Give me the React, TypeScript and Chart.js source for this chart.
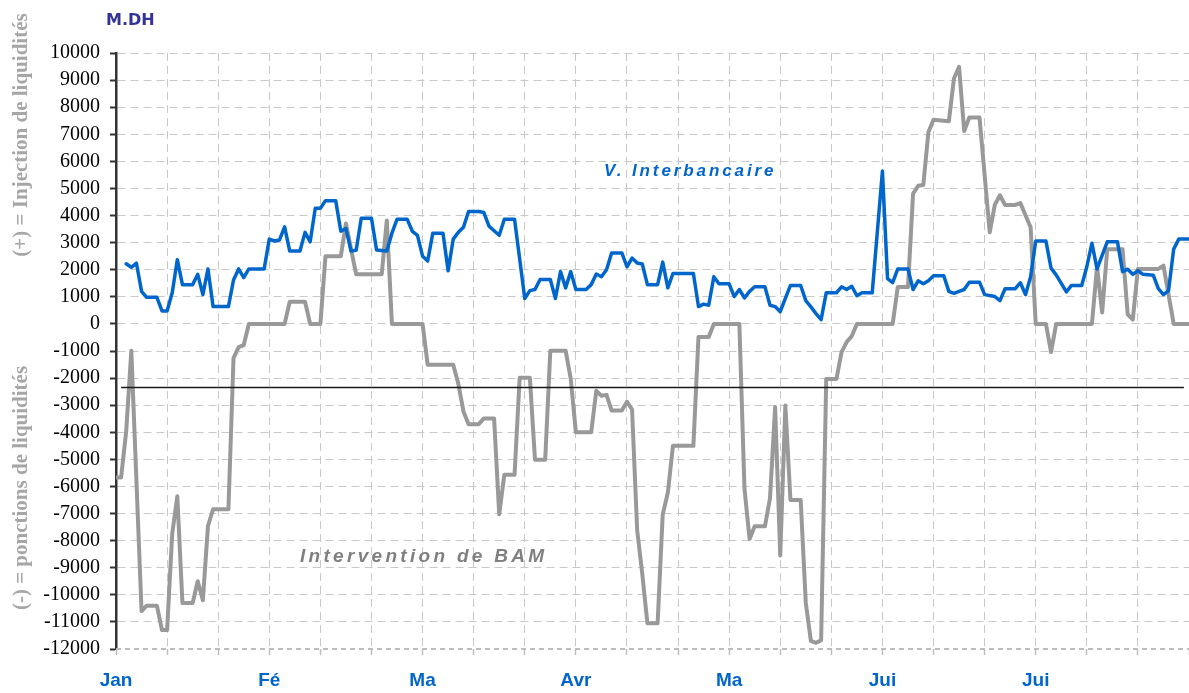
import React, { useEffect, useRef } from 'react';
import { Chart, registerables } from 'chart.js';

Chart.register(...registerables);

// ---- Data ----
const monthLabels = ['Jan', 'Fé', 'Ma', 'Avr', 'Ma', 'Jui', 'Jui'];

const yMin = -12000;
const yMax = 10000;
const yStep = 1000;
const dayMax = 210;
const dayStep = 10;
const monthDays = 30;

// V. Interbancaire (day index, value in M.DH)
const interDays = [
  2, 3, 4, 5, 6, 8, 9, 10, 11, 12,
  13, 15, 16, 17, 18, 19, 22, 23, 24, 25,
  26, 29, 30, 31, 32, 33, 34, 36, 37, 38,
  39, 40, 41, 43, 44, 45, 46, 47, 48, 50,
  51, 53, 54, 55, 57, 58, 59, 60, 61, 62,
  64, 65, 66, 67, 68, 69, 71, 72, 73, 74,
  75, 76, 78, 79, 80, 81, 82, 83, 85, 86,
  87, 88, 89, 90, 92, 93, 94, 95, 96, 97,
  99, 100, 101, 102, 103, 104, 106, 107, 108, 109,
  113, 114, 115, 116, 117, 118, 120, 121, 122, 123,
  124, 125, 127, 128, 129, 130, 131, 132, 134, 135,
  136, 137, 138, 139, 141, 142, 143, 144, 145, 146,
  148, 150, 151, 152, 153, 155, 156, 157, 158, 159,
  160, 162, 163, 164, 165, 166, 167, 169, 170, 172,
  173, 174, 176, 177, 178, 179, 180, 182, 183, 184,
  186, 187, 189, 190, 191, 192, 194, 196, 197, 198,
  199, 200, 201, 203, 204, 205, 206, 207, 208, 210,
];
const interValues = [
  2220, 2090, 2240, 1200, 980, 980, 480, 480, 1150, 2370,
  1450, 1450, 1830, 1080, 2030, 640, 640, 1620, 2030, 1710,
  2030, 2030, 3130, 3060, 3100, 3580, 2690, 2690, 3380, 3030,
  4270, 4270, 4550, 4550, 3420, 3520, 2690, 2720, 3900, 3900,
  2730, 2690, 3350, 3860, 3860, 3420, 3270, 2500, 2320, 3350,
  3350, 1960, 3130, 3380, 3570, 4150, 4150, 4110, 3610, 3440,
  3270, 3860, 3860, 2400, 940, 1230, 1270, 1640, 1640, 940,
  1930, 1330, 1930, 1270, 1270, 1450, 1840, 1740, 2000, 2620,
  2620, 2110, 2430, 2250, 2210, 1450, 1450, 2280, 1330, 1860,
  1860, 640, 730, 690, 1740, 1480, 1480, 1010, 1270, 960,
  1200, 1370, 1370, 690, 640, 450, 940, 1420, 1420, 860,
  630, 380, 160, 1150, 1150, 1370, 1270, 1390, 1040, 1150,
  1150, 5640, 1670, 1520, 2030, 2030, 1270, 1590, 1480, 1590,
  1780, 1780, 1200, 1130, 1200, 1270, 1540, 1540, 1080, 1010,
  860, 1300, 1300, 1520, 1080, 1740, 3060, 3060, 2060, 1810,
  1180, 1420, 1420, 2110, 2980, 2030, 3030, 3030, 1930, 2020,
  1830, 1960, 1830, 1800, 1300, 1080, 1230, 2760, 3130, 3130,
];

// Intervention de BAM (day index, value in M.DH)
const bamDays = [
  0, 1, 2, 3, 5, 6, 8, 9, 10, 11,
  12, 13, 15, 16, 17, 18, 19, 22, 23, 24,
  25, 26, 33, 34, 37, 38, 40, 41, 44, 45,
  47, 52, 53, 54, 60, 61, 66, 67, 68, 69,
  71, 72, 74, 75, 76, 78, 79, 81, 82, 84,
  85, 88, 89, 90, 93, 94, 95, 96, 97, 99,
  100, 101, 102, 103, 104, 106, 107, 108, 109, 113,
  114, 116, 117, 122, 123, 124, 125, 127, 128, 129,
  130, 131, 132, 134, 135, 136, 137, 138, 139, 141,
  142, 143, 144, 145, 152, 153, 155, 156, 157, 158,
  159, 160, 163, 164, 165, 166, 167, 169, 171, 172,
  173, 174, 176, 177, 178, 179, 180, 182, 183, 184,
  191, 192, 193, 194, 197, 198, 199, 200, 204, 205,
  207, 210,
];
const bamValues = [
  -5670, -5670, -3950, -990, -10600, -10400, -10400, -11300, -11300, -7750,
  -6360, -10300, -10300, -9500, -10200, -7460, -6840, -6840, -1260, -860,
  -780, 0, 0, 820, 820, 0, 0, 2500, 2500, 3710,
  1830, 1830, 3820, 0, 0, -1510, -1510, -2210, -3230, -3700,
  -3700, -3490, -3490, -7030, -5570, -5570, -1990, -1990, -5010, -5010,
  -990, -990, -2030, -4000, -4000, -2470, -2650, -2620, -3200, -3200,
  -2870, -3160, -7620, -9230, -11050, -11050, -7030, -6230, -4500, -4500,
  -480, -480, 0, 0, -6080, -7940, -7470, -7470, -6430, -3070,
  -8550, -3010, -6500, -6500, -10300, -11700, -11770, -11680, -2030, -2030,
  -1040, -670, -450, 0, 0, 1360, 1360, 4810, 5100, 5130,
  7080, 7540, 7480, 9060, 9490, 7120, 7620, 7620, 3380, 4400,
  4750, 4390, 4390, 4460, 4010, 3570, 0, 0, -1040, 0,
  0, 2100, 420, 2760, 2760, 350, 160, 2030, 2030, 2150,
  0, 0,
];

// Horizontal reference line
const refDays = [1, 209];
const refValues = [-2350, -2350];

const toPoints = (xs: number[], ys: number[]) => xs.map((x, i) => ({ x, y: ys[i] }));

const decorPlugin = {
  id: 'decor',
  afterDraw(chart: any) {
    const { ctx, chartArea } = chart;
    ctx.save();
    // dotted category axis
    ctx.strokeStyle = '#bdbdbd';
    ctx.lineWidth = 2;
    ctx.setLineDash([5, 4]);
    ctx.beginPath();
    ctx.moveTo(chartArea.left, chartArea.bottom);
    ctx.lineTo(chartArea.right, chartArea.bottom);
    ctx.stroke();
    ctx.setLineDash([]);

    // unit
    ctx.fillStyle = '#333399';
    ctx.font = 'bold 16px "DejaVu Sans"';
    ctx.textAlign = 'left';
    ctx.textBaseline = 'alphabetic';
    ctx.fillText('M.DH', 106, 25);

    // rotated side titles
    const side = (text: string, cx: number, cy: number) => {
      ctx.save();
      ctx.translate(cx, cy);
      ctx.rotate(-Math.PI / 2);
      ctx.textAlign = 'center';
      ctx.textBaseline = 'middle';
      ctx.font = 'bold 21px "Liberation Serif"';
      ctx.fillStyle = '#a6a6a6';
      ctx.fillText(text, 0, 0);
      ctx.restore();
    };
    side('(+) = Injection de liquidités', 22, 135);
    side('(-) = ponctions de liquidités', 22, 488);

    // series annotations
    ctx.textAlign = 'left';
    ctx.textBaseline = 'middle';
    (ctx as any).letterSpacing = '2.9px';
    ctx.font = 'italic bold 17px "Liberation Sans"';
    ctx.fillStyle = '#0066cc';
    ctx.fillText('V. Interbancaire', 604, 171);
    (ctx as any).letterSpacing = '3.3px';
    ctx.font = 'italic bold 19px "Liberation Sans"';
    ctx.fillStyle = '#808080';
    ctx.fillText('Intervention de BAM', 300, 557);
    (ctx as any).letterSpacing = '0px';
    ctx.restore();
  },
};

export default function App() {
  const canvasRef = useRef<HTMLCanvasElement | null>(null);

  useEffect(() => {
    document.body.style.margin = '0';
    document.body.style.overflow = 'hidden';
    const canvas = canvasRef.current;
    if (!canvas) return;
    const chart = new Chart(canvas, {
      type: 'line',
      data: {
        datasets: [
          {
            label: 'Référence',
            data: toPoints(refDays, refValues),
            borderColor: '#1a1a1a',
            borderWidth: 1.5,
            pointRadius: 0,
            fill: false,
          },
          {
            label: 'V. Interbancaire',
            data: toPoints(interDays, interValues),
            borderColor: '#0066cc',
            borderWidth: 3.5,
            pointRadius: 0,
            borderJoinStyle: 'round',
            borderCapStyle: 'round',
            fill: false,
            tension: 0,
          },
          {
            label: 'Intervention de BAM',
            data: toPoints(bamDays, bamValues),
            borderColor: '#999999',
            borderWidth: 4,
            pointRadius: 0,
            borderJoinStyle: 'round',
            borderCapStyle: 'round',
            fill: false,
            tension: 0,
          },
        ],
      },
      options: {
        animation: false,
        responsive: false,
        devicePixelRatio: 1,
        layout: { padding: { top: 53, left: 0, right: 0, bottom: 0 } },
        plugins: {
          legend: { display: false },
          tooltip: { enabled: false },
        },
        scales: {
          x: {
            type: 'linear',
            min: 0,
            max: dayMax,
            afterFit: (scale: any) => {
              scale.height = 44;
              scale.paddingRight = 0;
            },
            ticks: {
              stepSize: dayStep,
              autoSkip: false,
              maxRotation: 0,
              minRotation: 0,
              padding: 14,
              color: '#0066cc',
              font: { family: 'Liberation Sans', size: 19, weight: 'bold' },
              callback: (v: any) => {
                const n = Number(v);
                if (n % monthDays !== 0) return '';
                return monthLabels[n / monthDays] ?? '';
              },
            },
            grid: {
              color: '#c8c8c8',
              lineWidth: 1,
              drawTicks: true,
              tickLength: 6,
              tickColor: '#bdbdbd',
              tickWidth: 1.5,
              tickBorderDash: [],
            },
            border: { display: false, dash: [8, 5] },
          },
          y: {
            type: 'linear',
            min: yMin,
            max: yMax,
            afterFit: (scale: any) => {
              scale.width = 116;
            },
            ticks: {
              stepSize: yStep,
              padding: 10,
              color: '#000000',
              font: { family: 'Liberation Serif', size: 20 },
              callback: (v: any) => String(v),
            },
            grid: {
              color: (c: any) => (c.tick && c.tick.value === yMin ? 'transparent' : '#c8c8c8'),
              lineWidth: 1,
              drawTicks: true,
              tickLength: 6,
              tickColor: '#333333',
              tickWidth: 2,
              tickBorderDash: [],
            },
            border: { display: true, color: '#333333', width: 2.5, dash: [8, 5] },
          },
        },
      },
      plugins: [decorPlugin],
    });
    return () => chart.destroy();
  }, []);

  return (
    <div style={{ position: 'absolute', left: 0, top: 0, width: 1189, height: 693 }}>
      <canvas ref={canvasRef} width={1189} height={693} style={{ display: 'block' }} />
    </div>
  );
}
